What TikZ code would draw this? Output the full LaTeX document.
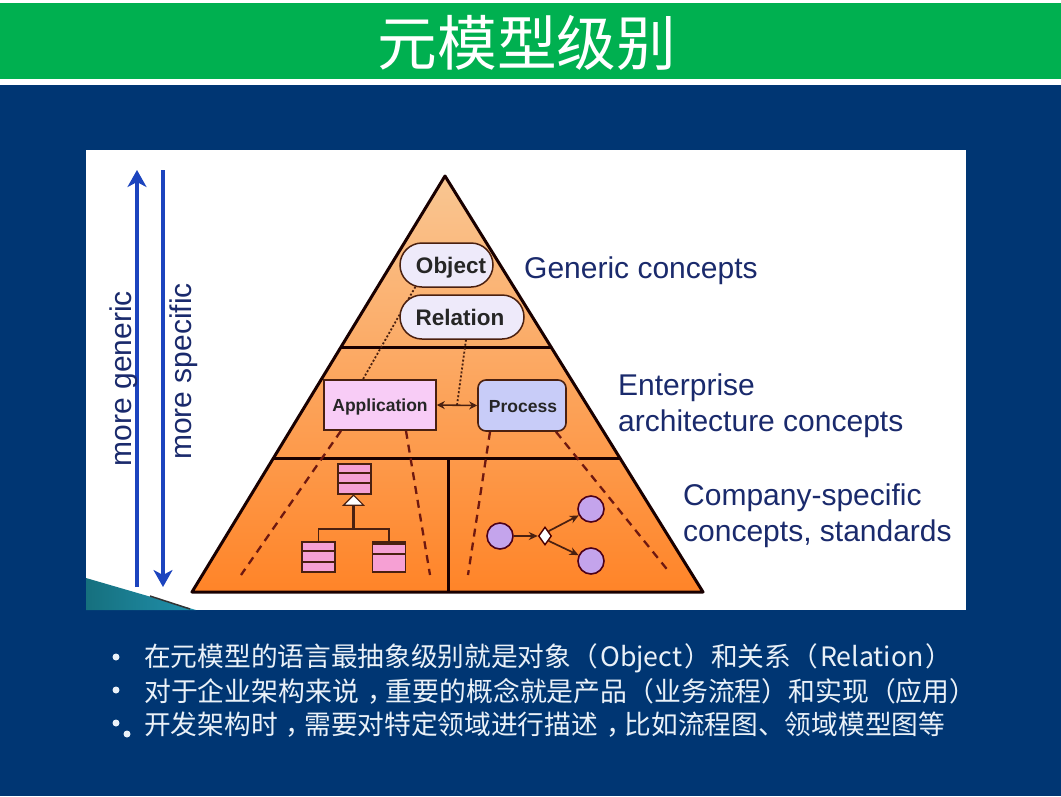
\documentclass[tikz,border=0pt]{standalone}
\usepackage{fontspec}
\setmainfont{Liberation Sans}
\newfontfamily\cjk{Noto Sans CJK SC}
\usetikzlibrary{arrows.meta,calc,shapes.misc,shapes.geometric}
\definecolor{navybg}{HTML}{003673}
\definecolor{greenbar}{HTML}{00B050}
\definecolor{labelblue}{HTML}{1A2A6C}
\definecolor{arrowblue}{HTML}{1C44BE}
\definecolor{edgebrown}{HTML}{4A2010}
\definecolor{dashred}{HTML}{6E1810}
\definecolor{bullettext}{HTML}{EAF1F8}
\definecolor{pyrtop}{HTML}{F9C692}
\definecolor{pyrmid}{HTML}{F8AE74}
\definecolor{pyrbot}{HTML}{FF8428}
\definecolor{conceptfill}{HTML}{EEEAFA}
\definecolor{appfill}{HTML}{F8CCF6}
\definecolor{procfill}{HTML}{C8CCF8}
\definecolor{classfill}{HTML}{F6A0D4}
\definecolor{ballfill}{HTML}{C4A4EC}
\definecolor{tealA}{HTML}{16707E}
\definecolor{tealB}{HTML}{2090AC}
\newcommand{\ccm}{\hspace{.3em}，\hspace{-.3em}}
\newcommand{\lat}[1]{\hspace{2.2pt}#1\hspace{2.2pt}}
\tikzset{
  x=1pt,y=-1pt,
  tier/.style={line width=3pt,draw=black!90!red},
  level/.style={text=labelblue,font=\fontsize{30}{34}\selectfont,anchor=west,inner sep=0},
  side/.style={text=labelblue,font=\fontsize{30}{34}\selectfont,rotate=90,inner sep=0},
  concept/.style={rounded rectangle,rounded rectangle arc length=180,draw=edgebrown,line width=1.5pt,fill=conceptfill,
     font=\bfseries\fontsize{22.5}{26}\selectfont,text=black!85,inner sep=0},
  element/.style={draw=edgebrown,line width=1.6pt,font=\bfseries\fontsize{17.5}{21}\selectfont,text=black!85,inner sep=0},
  dotline/.style={draw=edgebrown,line width=1.8pt,dash pattern=on 2pt off 2pt},
  dashline/.style={draw=dashred,line width=2.3pt,dash pattern=on 8pt off 6pt},
  classbox/.style={draw=edgebrown,line width=1.5pt,fill=classfill},
  umlline/.style={draw=edgebrown,line width=1.6pt},
  stateball/.style={circle,draw=black!60!purple,line width=1.6pt,fill=ballfill,minimum size=26pt,inner sep=0},
  flow/.style={draw=edgebrown,line width=1.7pt,-{Stealth[length=9pt,width=8pt]}},
  bigarrow/.style={draw=arrowblue,line width=3.6pt,-{Stealth[length=17pt,width=19pt,inset=5pt]}},
  bullettxt/.style={text=bullettext,font=\cjk\fontsize{26.7}{30}\selectfont,anchor=west,inner sep=0},
  bulletdot/.style={circle,fill=bullettext,minimum size=7pt,inner sep=0},
}
\begin{document}
\begin{tikzpicture}
\useasboundingbox (0,0) rectangle (1061,796);
% background
\fill[white] (0,0) rectangle (1061,796);
\fill[navybg] (0,85) rectangle (1061,796);
\fill[greenbar] (0,3) rectangle (1061,79);
\node[text=white,font=\cjk\fontsize{59.7}{64}\selectfont,inner sep=0] (title) at (527,43) {元模型级别};
% panel
\fill[white] (86,150) rectangle (966,610);
\shade[left color=tealA,right color=tealB] (86,578) -- (196,610) -- (86,610) -- cycle;
\draw[line width=1.5pt,black!80] (150,596) -- (190,609);
% side arrows
\coordinate (upS) at (137,587); \coordinate (upE) at (137,170);
\coordinate (dnS) at (163,170); \coordinate (dnE) at (163,587);
\draw[bigarrow] (upS) -- (upE);
\draw[bigarrow] (dnS) -- (dnE);
\node[side] (mg) at (124,378.5) {more generic};
\node[side] (ms) at (184,371.5) {more specific};
% pyramid
\coordinate (apex) at (445,176);
\coordinate (bl) at (192,592);
\coordinate (br) at (703,592);
\coordinate (t1l) at ($(apex)!.413!(bl)$);
\coordinate (t1r) at ($(apex)!.413!(br)$);
\coordinate (t2l) at ($(apex)!.68!(bl)$);
\coordinate (t2r) at ($(apex)!.68!(br)$);
\shade[top color=pyrtop,middle color=pyrmid,bottom color=pyrbot]
  (apex) -- (bl) -- (br) -- cycle;
\draw[tier,line join=round] (apex) -- (bl) -- (br) -- cycle;
\draw[tier] (t1l) -- (t1r);
\draw[tier] (t2l) -- (t2r);
\coordinate (vtop) at ($(t2l)!.5!(t2r)+(2,0)$);
\coordinate (vbot) at (vtop |- bl);
\draw[tier,line width=3.4pt] (vtop) -- (vbot);
% concepts
\node[concept,minimum width=93pt,minimum height=44pt] (obj) at (446.5,265) {\hspace*{9pt}\raisebox{-8pt}[0pt][0pt]{Object}};
\node[element,fill=appfill,minimum width=112pt,minimum height=50pt] (app) at (380,405) {\raisebox{-6.5pt}[0pt][0pt]{Application}};
\draw[dotline] (obj.-145) -- ([xshift=-17pt]app.north);
\node[concept,minimum width=124pt,minimum height=44pt] (rel) at (462,317) {\raisebox{-8pt}[0pt][0pt]{Relation}\hspace*{4pt}};
\node[element,fill=procfill,rounded corners=8pt,minimum width=88pt,minimum height=51pt] (proc) at (522,405.5) {\hspace*{2pt}\raisebox{-6.5pt}[0pt][0pt]{Process}};
\draw[dotline] (rel.south) ++(4,0) coordinate (relfoot) -- ($(app.east)!.5!(proc.west)$) coordinate (mid);
\draw[line width=1.6pt,edgebrown,{Stealth[length=8pt,width=8pt]}-{Stealth[length=8pt,width=8pt]}] (app.east) -- (proc.west);
% dashes
\coordinate (d1) at (241,575);
\coordinate (d2) at (430,575);
\coordinate (d3) at (468,575);
\coordinate (d4) at (670,573);
\draw[dashline] ([xshift=-39pt]app.south) -- (d1);
\draw[dashline] ([xshift=26pt]app.south) -- (d2);
\draw[dashline] ([xshift=-32pt]proc.south) -- (d3);
\draw[dashline] ([xshift=34pt]proc.south) -- (d4);
% class diagram
\node[classbox,minimum width=33pt,minimum height=30pt,inner sep=0] (c1) at (354.5,479) {};
\node[classbox,minimum width=33pt,minimum height=30pt,inner sep=0] (c2) at (318.5,557) {};
\node[classbox,minimum width=33pt,minimum height=30pt,inner sep=0] (c3) at (389,557) {};
\draw[umlline] (338,473) -- (371,473) (338,483) -- (371,483);
\draw[umlline] (302,551) -- (335,551) (302,562) -- (335,562);
\draw[umlline] (372.5,544) -- (405.5,544) (372.5,554) -- (405.5,554);
\node[isosceles triangle,isosceles triangle apex angle=90,shape border rotate=90,draw=edgebrown,fill=white,line width=1.2pt,minimum height=10pt,inner sep=0] (tri) at (353.5,501) {};
\coordinate (junc) at (tri.south |- 0,529);
\draw[umlline,line width=2.2pt] (tri.south) -- (junc);
\draw[umlline] (c2.north) |- (junc) -| (c3.north);
% process diagram
\node[stateball] (s1) at (500,536) {};
\node[stateball] (s2) at (591,509) {};
\node[stateball] (s3) at (591,561) {};
\node[diamond,draw=black!70!red,line width=1.4pt,fill=white,minimum width=13pt,minimum height=18pt,inner sep=0] (gate) at (545,536) {};
\draw[flow] (s1) -- (gate);
\draw[flow] (gate.north east) -- (s2);
\draw[flow] (gate.south east) -- (s3);
% labels
\node[level] (l1) at (524,271) {Generic concepts};
\node[level] (l2) at (618,388) {Enterprise};
\node[level] (l3) at (618,424) {architecture concepts};
\node[level] (l4) at (683,498) {Company-specific};
\node[level] (l5) at (683,534) {concepts, standards};
% bullets
\node[bulletdot] (b1) at (116,657) {};
\node[bulletdot] (b2) at (116,690) {};
\node[bulletdot] (b3) at (116,723) {};
\node[bulletdot] (b4) at (127,734) {};
\node[bullettxt] (t1) at (144,658.5) {在元模型的语言最抽象级别就是对象（\lat{Object}）和关系（\lat{Relation}）};
\node[bullettxt] (t2) at (144,691.5) {\fontsize{26.85}{30}\selectfont 对于企业架构来说\ccm 重要的概念就是产品（业务流程）和实现（应用）};
\node[bullettxt] (t3) at (144,724.5) {开发架构时\ccm 需要对特定领域进行描述\ccm 比如流程图、领域模型图等};
\end{tikzpicture}
\end{document}
